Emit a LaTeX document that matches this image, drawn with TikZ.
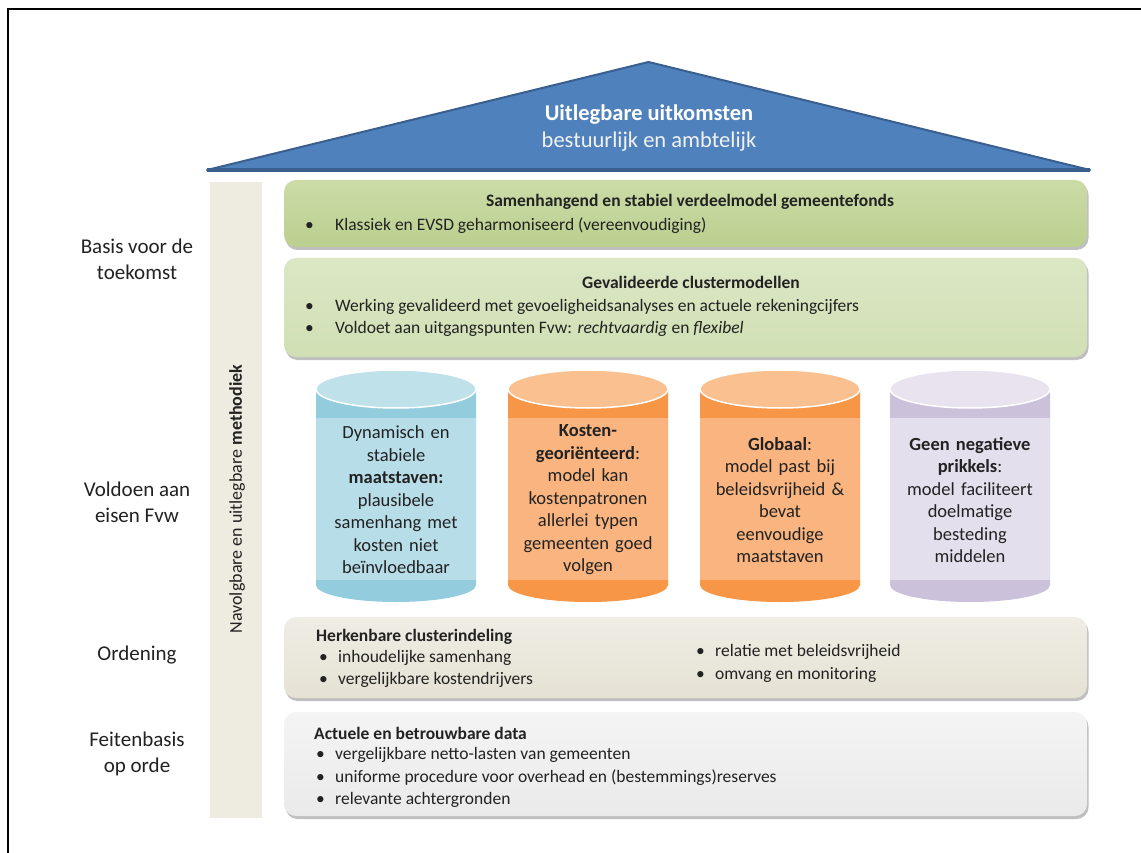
\documentclass[tikz,border=0pt]{standalone}
\usepackage{fontspec}
\setmainfont{Carlito}
\usetikzlibrary{calc}
\usetikzlibrary{positioning}
\usetikzlibrary{shadows}

\definecolor{roofblue}{HTML}{4F81BD}
\definecolor{roofedge}{HTML}{3A5F8E}
\definecolor{inkgray}{HTML}{222222}
\definecolor{barbeige}{HTML}{EEECE1}
\definecolor{verdeeltop}{HTML}{CBDCA7}
\definecolor{verdeelbot}{HTML}{BBCF8F}
\definecolor{clustertop}{HTML}{DBE7C4}
\definecolor{clusterbot}{HTML}{D1DFB5}
\definecolor{indelingtop}{HTML}{EFEDE4}
\definecolor{indelingbot}{HTML}{E5E2D4}
\definecolor{datatop}{HTML}{F4F4F4}
\definecolor{databot}{HTML}{EAEAEA}
\definecolor{cylblue}{HTML}{B7DDE8}
\definecolor{cylblueband}{HTML}{93CDDD}
\definecolor{cylbluelid}{HTML}{BEE1EA}
\definecolor{cylorange}{HTML}{F9B47F}
\definecolor{cylorangeband}{HTML}{F79646}
\definecolor{cylorangelid}{HTML}{FAC090}
\definecolor{cylpurple}{HTML}{E4DFEC}
\definecolor{cylpurpleband}{HTML}{CCC1DA}
\definecolor{cylpurplelid}{HTML}{E8E3EE}

\newcommand{\bltwide}{\makebox[30pt][l]{\textbullet}}
\newcommand{\bltnarrow}{\makebox[19pt][l]{\textbullet}}

\begin{document}
\begin{tikzpicture}[x=1pt, y=-1pt,
    panel/.style={rectangle, rounded corners=12pt, inner sep=0pt, minimum width=803pt,
        drop shadow={shadow xshift=1.5pt, shadow yshift=-3pt, fill=black, opacity=0.25}},
    boxtitle/.style={inner sep=0pt, text=inkgray, font=\fontsize{17.5}{22.5}\selectfont\bfseries},
    bullets/.style={inner sep=0pt, anchor=west, align=left, text=inkgray, font=\fontsize{17.5}{22.5}\selectfont},
    sidelabel/.style={inner sep=0pt, align=center, text=inkgray, font=\fontsize{21}{26}\selectfont},
    vattext/.style={inner sep=0pt, align=center, text width=155pt, text=inkgray, font=\fontsize{18.5}{22.5}\selectfont}]
    \useasboundingbox (0,0) rectangle (1141,853);
    \fill[white] (0,0) rectangle (1141,853);
    \draw[line width=2.5pt] (8,853) -- (8,9) -- (1141,9);

    \path[fill=roofblue, draw=roofedge, line width=2pt, line join=round]
        (207,170) coordinate (dakL) -- (648.5,62) coordinate (nok) -- (1090,170) coordinate (dakR) -- cycle;
    \draw[roofedge, line width=4pt] (dakL) -- (dakR);
    \node[inner sep=0pt, text=white, font=\fontsize{22.5}{26}\selectfont\bfseries] (uitkomst) at (649,115) {Uitlegbare uitkomsten};
    \node[inner sep=0pt, text=white!95!black, font=\fontsize{22.5}{26}\selectfont] (bestuur) at (649,142) {bestuurlijk en ambtelijk};

    \node[fill=barbeige, minimum width=52pt, minimum height=636pt, inner sep=0pt] (methode) at (236,500) {};
    \node[rotate=90, inner sep=0pt, text=inkgray, font=\fontsize{18}{22}\selectfont] (methodetekst) at (237,499) {Navolgbare en uitlegbare \textbf{methodiek}};

    \node[sidelabel] (basis) at (137,259) {Basis voor de\\toekomst};
    \node[sidelabel] (eisen) at (137,502) {Voldoen aan\\eisen Fvw};
    \node[sidelabel] (ordening) at (137,655) {Ordening};
    \node[sidelabel] (feiten) at (137,754) {Feitenbasis\\op orde};

    \node[panel, minimum height=67pt, top color=verdeeltop, bottom color=verdeelbot] (verdeel) at (685.5,213.5) {};
    \node[boxtitle] (verdeeltitel) at (690,202) {Samenhangend en stabiel verdeelmodel gemeentefonds};
    \node[bullets] (verdeelpunt) at (305,226) {\bltwide Klassiek en EVSD geharmoniseerd (vereenvoudiging)};

    \node[panel, minimum height=99pt, top color=clustertop, bottom color=clusterbot] (cluster) at (685.5,307.5) {};
    \node[boxtitle] (clustertitel) at (691,282) {Gevalideerde clustermodellen};
    \node[bullets] (clusterpunt) at (305,318) {\bltwide Werking gevalideerd met gevoeligheidsanalyses en actuele rekeningcijfers\\
        \bltwide Voldoet aan uitgangspunten Fvw: \textit{rechtvaardig} en \textit{flexibel}};

    \foreach \cx/\body/\band/\lid/\txt [count=\i] in {
        396/cylblue/cylblueband/cylbluelid/{Dynamisch en\\stabiele\\\textbf{maatstaven:}\\plausibele\\samenhang met\\kosten niet\\beïnvloedbaar},
        588/cylorange/cylorangeband/cylorangelid/{\textbf{Kosten-}\\\textbf{georiënteerd}:\\model kan\\kostenpatronen\\allerlei typen\\gemeenten goed\\volgen},
        780/cylorange/cylorangeband/cylorangelid/{\textbf{Globaal}:\\model past bij\\beleidsvrijheid \&\\bevat\\eenvoudige\\maatstaven},
        970/cylpurple/cylpurpleband/cylpurplelid/{\textbf{Geen negatieve}\\\textbf{prikkels}:\\model faciliteert\\doelmatige\\besteding\\middelen}}
    {
        \fill[\band] (\cx-80,389) -- (\cx-80,585) arc[start angle=180, end angle=360, x radius=80pt, y radius=17pt] -- (\cx+80,389) -- cycle;
        \fill[\body] (\cx-80,418) rectangle (\cx+80,580);
        \filldraw[fill=\lid, draw=white, line width=1.5pt] (\cx,389) ellipse[x radius=80pt, y radius=19pt];
        \node[vattext] (vat\i) at (\cx,500) {\txt};
    }

    \node[panel, minimum height=81pt, top color=indelingtop, bottom color=indelingbot] (indeling) at (685.5,657.5) {};
    \node[boxtitle, anchor=west] (indelingtitel) at (316,637) {Herkenbare clusterindeling};
    \node[bullets] (indelingpuntL) at (319,669) {\bltnarrow inhoudelijke samenhang\\\bltnarrow vergelijkbare kostendrijvers};
    \node[bullets] (indelingpuntR) at (696,663.5) {\bltnarrow relatie met beleidsvrijheid\\\bltnarrow omvang en monitoring};

    \node[panel, minimum height=104pt, top color=datatop, bottom color=databot] (data) at (685.5,764) {};
    \node[boxtitle, anchor=west] (datatitel) at (314,733) {Actuele en betrouwbare data};
    \node[bullets] (datapunt) at (316,777.5) {\bltnarrow vergelijkbare netto-lasten van gemeenten\\
        \bltnarrow uniforme procedure voor overhead en (bestemmings)reserves\\
        \bltnarrow relevante achtergronden};
\end{tikzpicture}
\end{document}
